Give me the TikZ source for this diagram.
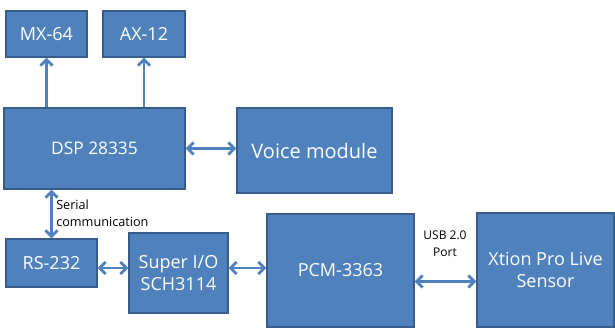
\documentclass[tikz,border=0pt]{standalone}
\usepackage{fontspec}
\setmainfont{Open Sans}
\definecolor{boxblue}{RGB}{79,129,189}
\definecolor{boxline}{RGB}{56,93,138}
\usepackage{tikz}
\usetikzlibrary{arrows.meta,positioning,calc}

\begin{document}
\begin{tikzpicture}[x=0.75pt,y=-0.75pt,
  blk/.style={draw=boxline,line width=0.8pt,fill=boxblue,text=white,inner sep=0pt,align=center,font=\fontsize{13.5}{16}\selectfont},
  link/.style={{Straight Barb[length=4.5pt,width=9pt]}-{Straight Barb[length=4.5pt,width=9pt]},boxblue,line width=2.2pt}]
  \useasboundingbox (0,0) rectangle (615,329);
  % Motors
  \node[blk,minimum width=60.75pt,minimum height=34.5pt] (MX) at (46.5,34) {MX-64};
  \node[blk,minimum width=61.5pt,minimum height=34.5pt] (AX) at (144,34) {AX-12};
  % Controller and voice
  \node[blk,minimum width=135.75pt,minimum height=60.75pt,font=\fontsize{13}{16}\selectfont] (DSP) at (94.5,148.5) {DSP 28335};
  \node[blk,minimum width=116.25pt,minimum height=63.75pt,font=\fontsize{15}{18}\selectfont] (VM) at (314.5,150.5) {Voice module};
  % Lower row
  \node[blk,minimum width=68.25pt,minimum height=36pt] (RS) at (51.5,263) {RS-232};
  \node[blk,minimum width=74.25pt,minimum height=60pt] (SIO) at (178.5,273) {Super I/O\\SCH3114};
  \node[blk,minimum width=110.25pt,minimum height=84.75pt] (PCM) at (340.5,270.5) {PCM-3363};
  \node[blk,minimum width=102.75pt,minimum height=85.5pt] (XT) at (545.5,270) {Xtion Pro Live\\Sensor};
  % Connections
  \draw[link,-{Straight Barb[length=4.5pt,width=9pt]}] (MX.south |- DSP.north) -- (MX.south);
  \draw[link,-{Straight Barb[length=4.5pt,width=9pt]}] (AX.south |- DSP.north) -- (AX.south);
  \draw[link] (DSP.east) -- (DSP.east -| VM.west);
  \draw[link] (RS.north |- DSP.south) -- (RS.north);
  \draw[link] ([yshift=-3.75pt]RS.east) -- ([yshift=-3.75pt]RS.east -| SIO.west);
  \draw[link] ([yshift=3.75pt]SIO.east) -- ([yshift=3.75pt]SIO.east -| PCM.west);
  \draw[link] ([yshift=-8.25pt]PCM.east) -- ([yshift=-8.25pt]PCM.east -| XT.west);
  % Labels
  \node[right,align=left,inner sep=0pt,font=\fontsize{9.5}{12.5}\selectfont] (SC) at (56,213.5) {Serial\\communication};
  \node[align=center,inner sep=0pt,font=\fontsize{9}{12.5}\selectfont] (USB) at (445,243.5) {USB 2.0\\Port};
\end{tikzpicture}
\end{document}
